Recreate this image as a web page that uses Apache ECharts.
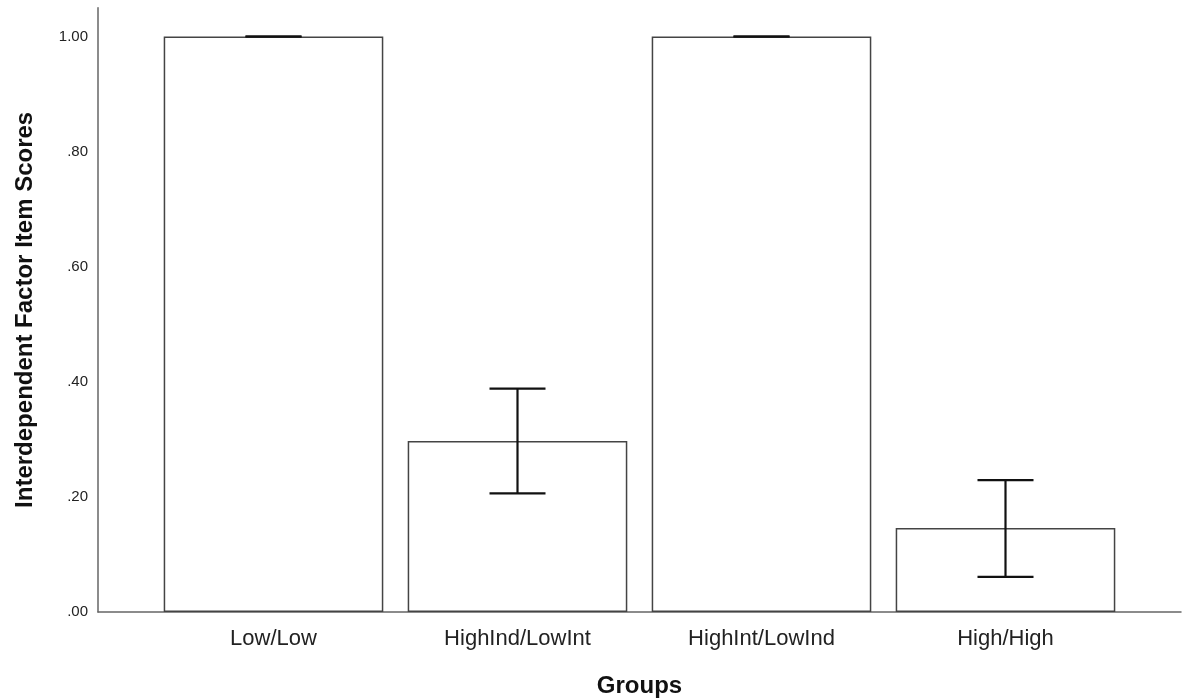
<!DOCTYPE html>
<html>
<head>
<meta charset="utf-8">
<script src="https://cdn.jsdelivr.net/npm/echarts@6/dist/echarts.min.js"></script>
<style>
  html, body { margin: 0; padding: 0; background: #fff; }
  #main { width: 1183px; height: 698px; }
</style>
</head>
<body>
<div id="main"></div>
<script>
var groups = ['Low/Low', 'HighInd/LowInt', 'HighInt/LowInd', 'High/High'];
var means = [1.00, 0.297, 1.00, 0.146];
var errLow = [1.00, 0.206, 1.00, 0.061];
var errHigh = [1.00, 0.388, 1.00, 0.229];
var yTicks = [0, 0.2, 0.4, 0.6, 0.8, 1.0];

var myChart = echarts.init(document.getElementById('main'));

var errData = groups.map(function (g, i) {
  return [i, errLow[i], errHigh[i]];
});

function fmtTick(v) {
  // only label the nice ticks, SPSS style ".80"
  var ok = yTicks.some(function (t) { return Math.abs(t - v) < 1e-6; });
  if (!ok) return '';
  var s = v.toFixed(2);
  return s.charAt(0) === '0' ? s.slice(1) : s;
}

var option = {
  animation: false,
  textStyle: { fontFamily: 'Liberation Sans, Arial, sans-serif' },
  grid: [
    { left: 151.5, right: 55.5, top: 7.7, bottom: 86, outerBoundsMode: 'none' },
    { left: 98, right: 2, top: 7.7, bottom: 86, outerBoundsMode: 'none' }
  ],
  xAxis: [
    {
      type: 'category',
      gridIndex: 0,
      data: groups,
      axisLine: { show: false },
      axisTick: { show: false },
      axisLabel: { color: '#222', fontSize: 22, margin: 16 },
      name: 'Groups',
      nameLocation: 'middle',
      nameGap: 62,
      nameTextStyle: { color: '#111', fontSize: 24, fontWeight: 'bold' }
    },
    {
      type: 'value',
      gridIndex: 1,
      min: 0,
      max: 1,
      axisLine: { show: true, lineStyle: { color: '#666', width: 1.5 } },
      axisTick: { show: false },
      axisLabel: { show: false },
      splitLine: { show: false }
    }
  ],
  yAxis: [
    {
      type: 'value',
      gridIndex: 0,
      min: 0,
      max: 1.05,
      interval: 0.2,
      show: false,
      splitLine: { show: false }
    },
    {
      type: 'value',
      gridIndex: 1,
      min: 0,
      max: 1.05,
      interval: 0.2,
      axisLine: { show: true, lineStyle: { color: '#666', width: 1.5 } },
      axisTick: { show: false },
      splitLine: { show: false },
      axisLabel: { color: '#222', fontSize: 15, margin: 10, formatter: fmtTick },
      name: 'Interdependent Factor Item Scores',
      nameLocation: 'middle',
      nameGap: 61,
      nameTextStyle: { color: '#111', fontSize: 24, fontWeight: 'bold' }
    }
  ],
  series: [
    {
      type: 'bar',
      xAxisIndex: 0,
      yAxisIndex: 0,
      data: means,
      barWidth: '90%',
      itemStyle: { color: '#fff', borderColor: '#444', borderWidth: 1.5 }
    },
    {
      type: 'custom',
      xAxisIndex: 0,
      yAxisIndex: 0,
      data: errData,
      z: 10,
      renderItem: function (params, api) {
        var lo = api.coord([api.value(0), api.value(1)]);
        var hi = api.coord([api.value(0), api.value(2)]);
        var hw = 28;
        var st = { stroke: '#111', lineWidth: 2.2 };
        return {
          type: 'group',
          children: [
            { type: 'line', shape: { x1: hi[0], y1: hi[1], x2: lo[0], y2: lo[1] }, style: st },
            { type: 'line', shape: { x1: hi[0] - hw, y1: hi[1], x2: hi[0] + hw, y2: hi[1] }, style: st },
            { type: 'line', shape: { x1: lo[0] - hw, y1: lo[1], x2: lo[0] + hw, y2: lo[1] }, style: st }
          ]
        };
      }
    }
  ]
};

myChart.setOption(option);
</script>
</body>
</html>
